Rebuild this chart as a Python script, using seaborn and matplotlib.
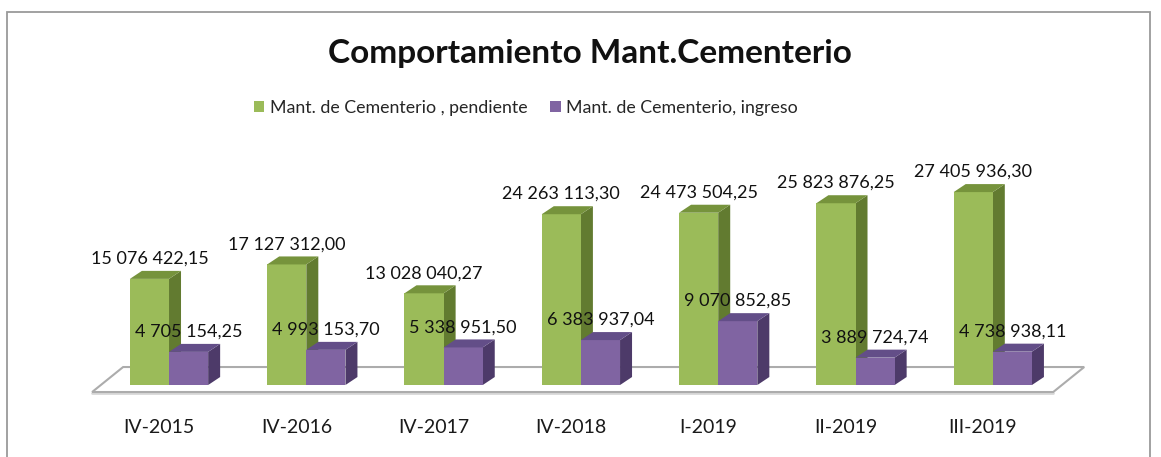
import numpy as np
import pandas as pd
import matplotlib.pyplot as plt
import seaborn as sns
from matplotlib.patches import Polygon, Rectangle
from matplotlib.transforms import ScaledTranslation

# ------------------------------------------------------------
# Datos
# ------------------------------------------------------------
periodos = ["IV-2015", "IV-2016", "IV-2017", "IV-2018", "I-2019", "II-2019", "III-2019"]
pendiente = [15076422.15, 17127312.00, 13028040.27, 24263113.30, 24473504.25, 25823876.25, 27405936.30]
ingreso = [4705154.25, 4993153.70, 5338951.50, 6383937.04, 9070852.85, 3889724.74, 4738938.11]
series = ["Mant. de Cementerio , pendiente", "Mant. de Cementerio, ingreso"]

colores = ["#9BBB59", "#8064A2"]
lados = ["#627B30", "#4D3A69"]
techos = ["#76933C", "#634E88"]

df = pd.DataFrame({
    "Periodo": periodos * 2,
    "Serie": [series[0]] * len(periodos) + [series[1]] * len(periodos),
    "Valor": pendiente + ingreso,
})

def fmt(v):
    return f"{v:,.2f}".replace(",", " ").replace(".", ",")

# ------------------------------------------------------------
# Figura
# ------------------------------------------------------------
sns.set_style("white")
plt.rcParams["font.family"] = ["Lato", "DejaVu Sans"]

fig = plt.figure(figsize=(11.61, 4.57), dpi=100)
ax = fig.add_axes([0, 0.1247, 1, 0.547])

sns.barplot(data=df, x="Periodo", y="Valor", hue="Serie", palette=colores,
            width=0.57, saturation=1, linewidth=0, ax=ax)

ax.set_xlim(-1.231, 7.225)
ax.set_ylim(-2.13e6, 33.38e6)
sns.despine(ax=ax, left=True, bottom=True)
ax.set_yticks([])
ax.set_xlabel("")
ax.set_ylabel("")
ax.tick_params(axis="x", length=0, pad=14, labelsize=14, colors="#1a1a1a")
for lab in ax.get_xticklabels():
    lab.set_transform(lab.get_transform() + ScaledTranslation(-0.10, 0, fig.dpi_scale_trans))

# conversion pixel -> datos
x0, x1 = ax.get_xlim()
y0, y1 = ax.get_ylim()
px_x = (x1 - x0) / ax.bbox.width
px_y = (y1 - y0) / ax.bbox.height

# piso 3D
n = len(periodos)
izq, der = -0.56, n - 1 + 0.44
prof_x, frente, fondo = 31 * px_x, -7 * px_y, 18 * px_y
piso = Polygon([(izq, frente), (der, frente), (der + prof_x, fondo), (izq + prof_x, fondo)],
               closed=True, facecolor="white", edgecolor="#acacac", lw=1.5, zorder=1)
ax.add_patch(piso)
ax.plot([izq, der], [frente - 1.2 * px_y] * 2, color="#d8d8d8", lw=2, zorder=0.9)

# caras laterales y superiores de las barras
dx, dy = 12 * px_x, 8 * px_y
for k, cont in enumerate(ax.containers):
    base_z = 2 + 2 * k
    for bar, val in zip(cont, [pendiente, ingreso][k]):
        bar.set_zorder(base_z + 0.5)
        xa = bar.get_x()
        xb = xa + bar.get_width()
        h = bar.get_height()
        lado = Polygon([(xb, 0), (xb + dx, dy), (xb + dx, h + dy), (xb, h)],
                       closed=True, facecolor=lados[k], edgecolor="none", zorder=base_z)
        techo = Polygon([(xa, h), (xb, h), (xb + dx, h + dy), (xa + dx, h + dy)],
                        closed=True, facecolor=techos[k], edgecolor="none", zorder=base_z + 0.6)
        ax.add_patch(lado)
        ax.add_patch(techo)
        ax.annotate(fmt(val), ((xa + xb) / 2, h), xytext=(0, 14.5), textcoords="offset points",
                    ha="center", va="center", fontsize=13, color="#111111", zorder=10)

# leyenda
sns.move_legend(ax, "center", bbox_to_anchor=(526 / 1161, 1 - 108 / 457),
                bbox_transform=fig.transFigure, ncol=2, frameon=False, title=None,
                fontsize=12.8, handlelength=0.6, handleheight=0.6, handletextpad=0.3,
                columnspacing=1.3)

# titulo
fig.text(590 / 1161, 1 - 54 / 457, "Comportamiento Mant.Cementerio", ha="center", va="center",
         fontsize=24, fontweight="bold", color="#111111")

# marco del grafico
fig.patches.append(Rectangle((7 / 1161, -0.05), (1150 - 7) / 1161, (457 - 12) / 457 + 0.05,
                             transform=fig.transFigure, facecolor="none",
                             edgecolor="#9a9a9a", lw=1.3))

fig.savefig("out.png", dpi=100)
